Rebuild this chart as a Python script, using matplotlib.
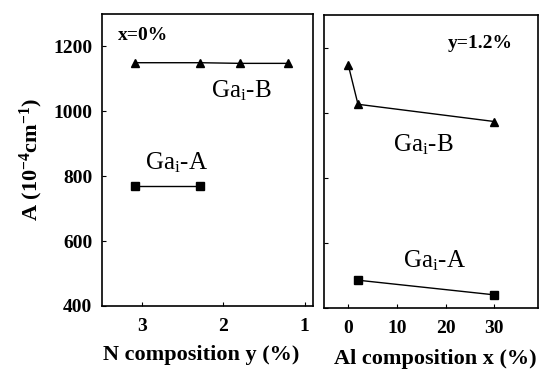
import matplotlib

matplotlib.use("Agg")

import matplotlib.pyplot as plt

# N composition series (x = 0%)
n_comp_b = [3.09, 2.29, 1.79, 1.2]
a_b_left = [1150, 1150, 1148, 1148]
n_comp_a = [3.09, 2.29]
a_a_left = [770, 770]

# Al composition series (y = 1.2%)
al_comp_b = [0, 2, 30]
a_b_right = [1147, 1026, 973]
al_comp_a = [2, 30]
a_a_right = [485, 440]

plt.rcParams["font.family"] = ["Liberation Serif", "DejaVu Serif"]
plt.rcParams["mathtext.fontset"] = "custom"
plt.rcParams["mathtext.rm"] = "Liberation Serif"
plt.rcParams["mathtext.it"] = "Liberation Serif:italic"
plt.rcParams["mathtext.bf"] = "Liberation Serif:bold"

fig = plt.figure(figsize=(5.39, 3.70), dpi=100)
ax1 = fig.add_axes([0.189, 0.173, 0.391, 0.789])
ax2 = fig.add_axes([0.601, 0.168, 0.397, 0.791])

line_kw = dict(color="black", lw=1.0, ms=6)
ax1.plot(n_comp_b, a_b_left, marker="^", **line_kw)
ax1.plot(n_comp_a, a_a_left, marker="s", **line_kw)
ax2.plot(al_comp_b, a_b_right, marker="^", **line_kw)
ax2.plot(al_comp_a, a_a_right, marker="s", **line_kw)

ax1.set_xlim(3.5, 0.9)
ax1.set_ylim(400, 1300)
ax1.set_xticks([3, 2, 1])
ax1.set_yticks([400, 600, 800, 1000, 1200])
ax2.set_xlim(-5, 39)
ax2.set_ylim(400, 1300)
ax2.set_xticks([0, 10, 20, 30])
ax2.set_yticks([400, 600, 800, 1000, 1200])
ax2.set_yticklabels([])

for ax in (ax1, ax2):
    ax.tick_params(direction="in", length=3, width=0.8, labelsize=14)
    ax.tick_params(axis="x", pad=9)
    ax.tick_params(axis="y", pad=7)
    for lab in ax.get_xticklabels() + ax.get_yticklabels():
        lab.set_fontweight("bold")
    for sp in ax.spines.values():
        sp.set_linewidth(1.2)

ax1.set_xlabel("N composition y (%)", fontsize=16, fontweight="bold")
ax1.xaxis.set_label_coords(0.47, -0.135)
ax2.set_xlabel("Al composition x (%)", fontsize=16, fontweight="bold")
ax2.xaxis.set_label_coords(0.52, -0.14)
ax1.set_ylabel(r"A (10$^{\mathbf{-4}}$cm$^{\mathbf{-1}}$)", fontsize=16, fontweight="bold", labelpad=6)

ax1.text(3.30, 1234, "x=0%", fontsize=14, fontweight="bold", ha="left", va="center")
ax1.text(1.78, 1065, r"Ga$_\mathrm{i}$-B", fontsize=18, ha="center", va="center")
ax1.text(2.58, 841, r"Ga$_\mathrm{i}$-A", fontsize=18, ha="center", va="center")
ax2.text(27.1, 1213, "y=1.2%", fontsize=14, fontweight="bold", ha="center", va="center")
ax2.text(15.4, 903, r"Ga$_\mathrm{i}$-B", fontsize=18, ha="center", va="center")
ax2.text(17.8, 544, r"Ga$_\mathrm{i}$-A", fontsize=18, ha="center", va="center")

fig.savefig("out.png", dpi=100)
